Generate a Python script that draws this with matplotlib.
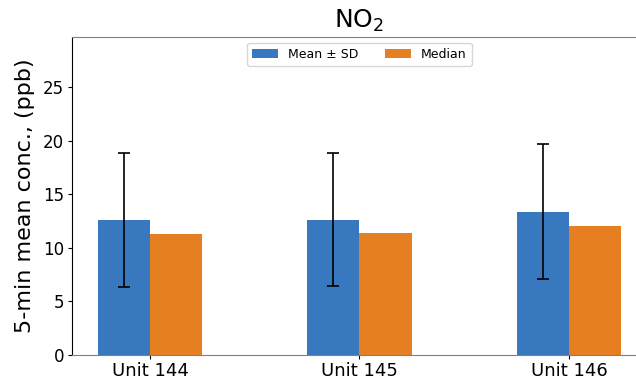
import numpy as np
import matplotlib
matplotlib.use("Agg")
import matplotlib.pyplot as plt

units = ["Unit 144", "Unit 145", "Unit 146"]
mean_vals = [12.6, 12.6, 13.35]
sd_vals = [6.25, 6.2, 6.3]
median_vals = [11.3, 11.35, 12.0]

x = np.arange(len(units))
w = 0.25

fig = plt.figure(figsize=(6.36, 3.78), dpi=100)
ax = fig.add_axes([0.1132, 0.0608, 0.904, 0.8426])

ax.bar(x - w / 2, mean_vals, w, yerr=sd_vals, capsize=4, color="#3778bf",
       error_kw=dict(ecolor="black", elinewidth=1.2, capthick=1.2), label="Mean ± SD")
ax.bar(x + w / 2, median_vals, w, color="#e67f22", label="Median")

ax.set_xticks(x)
ax.set_xticklabels(units, fontsize=13)
ax.tick_params(axis="y", labelsize=12, length=3, pad=2.5)
ax.tick_params(axis="x", length=3, pad=2)
ax.set_xlim(-0.372, 2.372)
ax.set_ylim(0, 29.7)
ax.set_yticks([0, 5, 10, 15, 20, 25])
ax.set_ylabel("5-min mean conc., (ppb)", fontsize=16, labelpad=6)
ax.set_title("NO$_2$", fontsize=18)

ax.spines["top"].set_color("gray")
ax.spines["bottom"].set_color("gray")
ax.spines["right"].set_visible(False)
ax.spines["left"].set_color("black")

ax.legend(loc="upper center", ncol=2, fontsize=9, handlelength=2.1,
          columnspacing=2.1, handletextpad=0.8)

fig.savefig("out.png", dpi=100)
